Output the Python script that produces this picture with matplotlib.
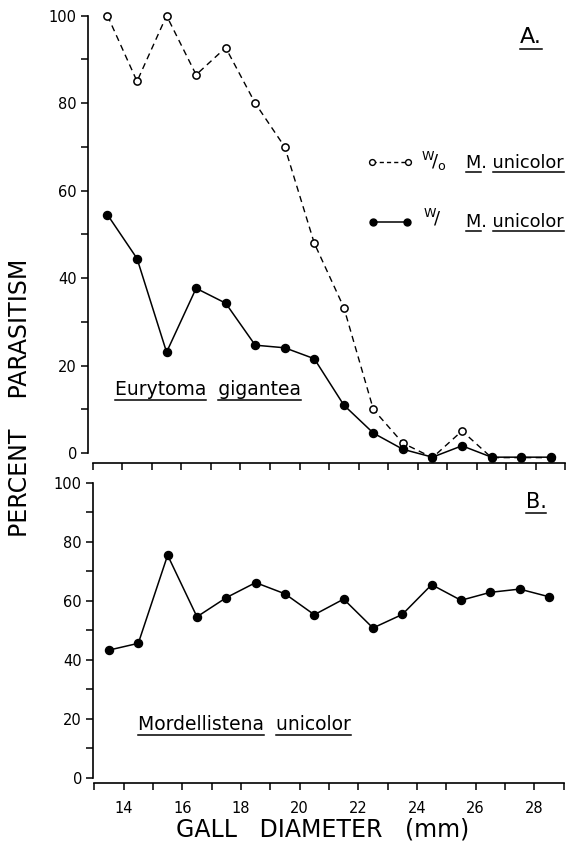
import matplotlib
matplotlib.use('Agg')
import matplotlib.pyplot as plt
from matplotlib.lines import Line2D

# ---- data ----
diameter = [13.5, 14.5, 15.5, 16.5, 17.5, 18.5, 19.5, 20.5,
            21.5, 22.5, 23.5, 24.5, 25.5, 26.5, 27.5, 28.5]
eury_without = [100, 85, 100, 86.5, 92.7, 80, 70, 48,
                33.3, 10, 2.3, -1, 5.1, -1, -1, -1]
eury_with = [54.5, 44.5, 23.1, 37.7, 34.3, 24.7, 24.1, 21.6,
             11.0, 4.6, 0.9, -0.9, 1.7, -0.9, -0.9, -0.9]
mordellistena = [43.3, 45.6, 75.5, 54.6, 61.1, 66.2, 62.4, 55.3,
                 60.6, 50.8, 55.4, 65.5, 60.2, 62.9, 64.0, 61.4]
y_ticks = [0, 20, 40, 60, 80, 100]
y_minor = [10, 30, 50, 70, 90]
x_ticks = list(range(13, 30))
x_labels = [str(v) if v % 2 == 0 else '' for v in x_ticks]

W, H = 566, 848
plt.rcParams['font.family'] = ['DejaVu Sans']
plt.rcParams['mathtext.fontset'] = 'dejavusans'
fig = plt.figure(figsize=(W / 100, H / 100), dpi=100)


def fx(px):
    return px / W


def fy(py):
    return 1 - py / H


axA = fig.add_axes([fx(88), fy(463.3), 478 / W, 451.3 / H])
axB = fig.add_axes([fx(93), fy(783), 473 / W, 305 / H])

axA.plot(diameter, eury_without, color='k', lw=1.0, ls=(0, (4.5, 3.2)),
         marker='o', ms=5.2, mfc='white', mec='k', mew=1.1, zorder=3)
axA.plot(diameter, eury_with, color='k', lw=1.1, ls='-',
         marker='o', ms=5.8, mfc='k', mec='k', zorder=4)
axB.plot(diameter, mordellistena, color='k', lw=1.1, ls='-',
         marker='o', ms=5.8, mfc='k', mec='k', zorder=4)

axA.set_xlim(12.84, 29.02)
axA.set_ylim(-2.3, 100.85)
axB.set_xlim(12.956, 29.08)
axB.set_ylim(-1.8, 101.7)

for ax in (axA, axB):
    for s in ('top', 'right'):
        ax.spines[s].set_visible(False)
    ax.spines['left'].set_bounds(0, 100)
    ax.spines['bottom'].set_bounds(13, 29)
    ax.spines['left'].set_linewidth(1.2)
    ax.spines['bottom'].set_linewidth(1.2)
    ax.set_yticks(y_ticks)
    ax.set_yticks(y_minor, minor=True)
    ax.set_xticks(x_ticks)
    ax.tick_params(axis='y', which='both', direction='out', length=5,
                   width=1.1, labelsize=10.5, pad=3)
    ax.tick_params(axis='x', which='both', direction='out', length=5,
                   width=1.1, labelsize=10.5, pad=8)
    ax.patch.set_alpha(0)

axA.set_xticklabels([''] * len(x_ticks))
axB.set_xticklabels(x_labels)

# axis titles
fig.text(fx(20), fy(398), 'PERCENT    PARASITISM', rotation=90,
         ha='center', va='center', fontsize=17)
fig.text(fx(323), fy(830), 'GALL   DIAMETER   (mm)', ha='center',
         va='center', fontsize=17)

# annotations
tA = fig.text(fx(531), fy(43), 'A.', ha='center', va='baseline', fontsize=16)
tB = fig.text(fx(536), fy(508), 'B.', ha='center', va='baseline', fontsize=15)
tE = fig.text(fx(115), fy(395), 'Eurytoma  gigantea', ha='left',
              va='baseline', fontsize=13.5)
tM = fig.text(fx(138), fy(730), 'Mordellistena  unicolor', ha='left',
              va='baseline', fontsize=13.5)

# legend glyphs
fig.add_artist(Line2D([fx(372), fx(408)], [fy(162), fy(162)], color='k',
                      lw=1.0, ls=(0, (3, 2.2)), marker='o', ms=4.2,
                      mfc='white', mec='k', mew=1.0))
fig.add_artist(Line2D([fx(373), fx(407)], [fy(221.5), fy(221.5)], color='k',
                      lw=1.1, ls='-', marker='o', ms=5, mfc='k', mec='k'))
fig.text(fx(421), fy(168), r'$^{\mathrm{W}}\!/_{\mathrm{o}}$', fontsize=13,
         va='baseline')
fig.text(fx(423), fy(224), r'$^{\mathrm{W}}\!/$', fontsize=13,
         va='baseline')
tL1 = fig.text(fx(466), fy(168), 'M. unicolor', fontsize=12.8, va='baseline')
tL2 = fig.text(fx(466), fy(227), 'M. unicolor', fontsize=12.8, va='baseline')

fig.canvas.draw()
renderer = fig.canvas.get_renderer()


def width_of(s, t):
    tmp = fig.text(0, 0, s, fontproperties=t.get_fontproperties())
    w = tmp.get_window_extent(renderer).width
    tmp.remove()
    return w


def underline(t, py, first=None, last=None):
    bb = t.get_window_extent(renderer)
    segs = []
    if first is None:
        segs.append((bb.x0, bb.x1))
    else:
        segs.append((bb.x0, bb.x0 + width_of(first, t)))
        segs.append((bb.x1 - width_of(last, t), bb.x1))
    for a, b in segs:
        fig.add_artist(Line2D([a / W, b / W], [fy(py), fy(py)],
                              color='k', lw=1.1))


underline(tA, 48.5)
underline(tB, 513)
underline(tE, 400, 'Eurytoma', 'gigantea')
underline(tM, 735, 'Mordellistena', 'unicolor')
underline(tL1, 172, 'M', 'unicolor')
underline(tL2, 230.5, 'M', 'unicolor')

fig.savefig('out.png', dpi=100)
